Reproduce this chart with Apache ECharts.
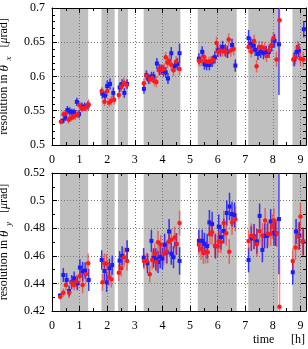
<!DOCTYPE html>
<html><head><meta charset="utf-8">
<script src="https://cdn.jsdelivr.net/npm/echarts@6/dist/echarts.min.js"></script>
<style>html,body{margin:0;padding:0;background:#fff}#c{width:308px;height:349px}</style>
</head><body><div id="c"></div>
<script>
// [start, end] of shaded (gray) time intervals, hours
var grayBands = [[0.29,1.31],[1.79,2.27],[2.39,2.75],[3.32,4.65],[5.28,6.69],[7.11,8.19],[8.71,9.2]];
var xTicks = [0,1,2,3,4,5,6,7,8,9];
var topTicks = [0.5,0.55,0.6,0.65,0.7];
var botTicks = [0.42,0.44,0.46,0.48,0.5,0.52];
// [time h, resolution urad, error]
var topRed = [[0.32,0.534,0.004],[0.42,0.545,0.005],[0.5,0.546,0.006],[0.6,0.537,0.006],[0.68,0.539,0.005],[0.76,0.541,0.005],[0.84,0.543,0.006],[0.92,0.545,0.006],[1.0,0.558,0.006],[1.08,0.553,0.005],[1.16,0.554,0.005],[1.25,0.555,0.006],[1.33,0.559,0.008],
[1.8,0.579,0.006],[1.9,0.563,0.006],[2.0,0.579,0.007],[2.07,0.562,0.006],[2.15,0.565,0.007],[2.25,0.566,0.007],
[2.42,0.573,0.006],[2.51,0.585,0.007],[2.6,0.591,0.007],[2.7,0.588,0.007],
[3.33,0.590,0.007],[3.42,0.601,0.007],[3.54,0.596,0.007],[3.63,0.598,0.007],[3.71,0.593,0.007],[3.78,0.592,0.008],[3.87,0.609,0.008],[3.94,0.610,0.007],[4.0,0.610,0.008],[4.06,0.611,0.008],[4.12,0.628,0.008],[4.18,0.620,0.008],[4.24,0.623,0.008],[4.32,0.617,0.008],[4.4,0.609,0.008],[4.5,0.622,0.008],[4.62,0.611,0.009],
[5.32,0.623,0.008],[5.4,0.623,0.008],[5.5,0.629,0.008],[5.58,0.622,0.008],[5.68,0.621,0.008],[5.76,0.622,0.008],[5.84,0.624,0.008],[5.96,0.649,0.009],[6.02,0.636,0.008],[6.1,0.638,0.008],[6.18,0.637,0.008],[6.26,0.638,0.008],[6.32,0.636,0.009],[6.4,0.654,0.009],[6.48,0.638,0.009],[6.58,0.640,0.009],
[7.12,0.643,0.008],[7.22,0.636,0.008],[7.32,0.652,0.009],[7.41,0.615,0.009],[7.5,0.643,0.009],[7.6,0.643,0.009],[7.7,0.641,0.009],[7.77,0.630,0.009],[7.86,0.638,0.009],[7.94,0.645,0.009],[8.02,0.656,0.009],[8.13,0.625,0.011],[8.24,0.682,0.06],
[8.74,0.625,0.01],[8.82,0.628,0.01],[8.9,0.642,0.01],[9.0,0.626,0.01],[9.1,0.625,0.011]];
var topBlue = [[0.38,0.535,0.004],[0.48,0.540,0.005],[0.56,0.551,0.006],[0.64,0.549,0.006],[0.72,0.548,0.005],[0.8,0.548,0.005],[0.9,0.563,0.006],[0.98,0.545,0.006],[1.08,0.556,0.006],[1.18,0.556,0.006],[1.3,0.558,0.006],
[1.82,0.575,0.007],[1.92,0.572,0.007],[2.0,0.586,0.008],[2.1,0.589,0.008],[2.22,0.576,0.008],
[2.45,0.584,0.007],[2.54,0.589,0.007],[2.62,0.576,0.007],[2.72,0.589,0.007],
[3.33,0.582,0.007],[3.42,0.602,0.007],[3.5,0.596,0.007],[3.6,0.600,0.007],[3.68,0.600,0.007],[3.8,0.619,0.008],[3.9,0.610,0.008],[3.97,0.610,0.007],[4.04,0.608,0.008],[4.12,0.606,0.008],[4.2,0.597,0.008],[4.32,0.634,0.009],[4.44,0.615,0.008],[4.54,0.618,0.009],[4.62,0.634,0.014],
[5.32,0.626,0.008],[5.44,0.636,0.008],[5.52,0.618,0.008],[5.6,0.617,0.008],[5.7,0.617,0.008],[5.8,0.622,0.008],[5.9,0.628,0.009],[6.0,0.638,0.009],[6.1,0.638,0.009],[6.18,0.643,0.009],[6.28,0.638,0.009],[6.36,0.636,0.009],[6.52,0.646,0.009],[6.64,0.616,0.009],
[7.12,0.656,0.012],[7.2,0.648,0.009],[7.28,0.645,0.009],[7.36,0.639,0.009],[7.46,0.633,0.009],[7.56,0.636,0.009],[7.66,0.634,0.009],[7.76,0.636,0.009],[7.86,0.636,0.009],[7.96,0.645,0.009],[8.06,0.652,0.01],[8.22,0.647,0.074],
[8.78,0.625,0.01],[8.86,0.636,0.01],[8.94,0.638,0.01],[9.12,0.669,0.012]];
var botRed = [[0.3,0.4304,0.002],[0.41,0.4333,0.003],[0.5,0.4389,0.004],[0.62,0.4333,0.004],[0.71,0.4406,0.004],[0.8,0.4389,0.004],[0.89,0.4413,0.005],[1.01,0.4454,0.005],[1.11,0.4389,0.006],[1.23,0.4467,0.006],[1.31,0.4546,0.007],
[1.83,0.4408,0.006],[1.9,0.4546,0.007],[1.98,0.4543,0.007],[2.06,0.4442,0.006],[2.15,0.4430,0.006],
[2.42,0.4478,0.006],[2.51,0.4510,0.006],[2.61,0.4590,0.007],[2.72,0.4563,0.007],
[3.33,0.4563,0.006],[3.43,0.4563,0.006],[3.54,0.4467,0.006],[3.63,0.4570,0.007],[3.72,0.4619,0.007],[3.78,0.4555,0.007],[3.84,0.4699,0.008],[3.94,0.4680,0.007],[4.04,0.4612,0.008],[4.14,0.4630,0.008],[4.24,0.4705,0.008],[4.32,0.4716,0.008],[4.44,0.4732,0.008],[4.52,0.4685,0.008],[4.62,0.4837,0.009],
[5.32,0.4680,0.007],[5.4,0.4650,0.008],[5.48,0.4620,0.008],[5.56,0.4625,0.008],[5.64,0.4626,0.008],[5.72,0.4757,0.008],[5.8,0.4771,0.009],[5.9,0.4672,0.008],[6.0,0.4670,0.008],[6.04,0.4703,0.008],[6.12,0.4700,0.008],[6.22,0.4837,0.009],[6.31,0.4764,0.009],[6.42,0.4630,0.009],[6.52,0.4841,0.009],[6.64,0.4866,0.009],
[7.12,0.4708,0.008],[7.22,0.4745,0.009],[7.32,0.4735,0.009],[7.42,0.4684,0.009],[7.52,0.4780,0.009],[7.62,0.4747,0.009],[7.72,0.4856,0.009],[7.82,0.4760,0.009],[7.92,0.4760,0.009],[7.98,0.4812,0.009],[8.04,0.4855,0.009],[8.14,0.4765,0.01],[8.24,0.4231,0.035],
[8.72,0.4563,0.009],[8.82,0.4660,0.009],[8.92,0.4740,0.01],[9.0,0.4885,0.01],[9.08,0.4705,0.01]];
var botBlue = [[0.29,0.4311,0.002],[0.41,0.4461,0.005],[0.53,0.4425,0.005],[0.62,0.4345,0.004],[0.71,0.4410,0.005],[0.8,0.4437,0.005],[0.92,0.4400,0.005],[1.01,0.4515,0.006],[1.11,0.4486,0.007],[1.2,0.4493,0.006],[1.33,0.4425,0.008],
[1.8,0.4570,0.007],[1.9,0.4490,0.007],[1.98,0.4408,0.007],[2.08,0.4510,0.007],[2.18,0.4533,0.007],
[2.45,0.4565,0.007],[2.54,0.4600,0.007],[2.72,0.4643,0.007],
[3.32,0.4587,0.007],[3.46,0.4545,0.007],[3.6,0.4708,0.008],[3.68,0.4585,0.007],[3.76,0.4575,0.008],[3.84,0.4555,0.008],[3.92,0.4590,0.008],[4.0,0.4580,0.008],[4.08,0.4680,0.008],[4.16,0.4625,0.008],[4.24,0.4776,0.009],[4.32,0.4615,0.008],[4.4,0.4590,0.008],[4.5,0.4685,0.008],[4.62,0.4563,0.01],
[5.32,0.4708,0.008],[5.44,0.4708,0.008],[5.52,0.4687,0.008],[5.62,0.4670,0.009],[5.7,0.4842,0.009],[5.8,0.4830,0.009],[5.92,0.4670,0.009],[6.04,0.4810,0.009],[6.12,0.4735,0.009],[6.22,0.4780,0.009],[6.33,0.4910,0.009],[6.43,0.4957,0.01],[6.52,0.4902,0.009],[6.61,0.4895,0.009],
[7.12,0.4570,0.009],[7.22,0.4725,0.009],[7.32,0.4740,0.009],[7.42,0.4705,0.009],[7.52,0.4889,0.009],[7.62,0.4643,0.009],[7.7,0.4745,0.009],[7.8,0.4745,0.009],[7.92,0.4849,0.009],[8.04,0.4764,0.009],[8.1,0.4760,0.009],[8.22,0.4866,0.04],
[8.72,0.4481,0.009],[8.84,0.4776,0.009],[8.96,0.4745,0.01],[9.1,0.4703,0.01]];

var FONT = 'Liberation Serif';
var RED = '#ff1a1a', BLUE = '#1a1aff';
var chart = echarts.init(document.getElementById('c'), null, {renderer:'canvas'});

function xAx(grid, pos){
  return {type:'value', gridIndex:grid, position:pos, min:xTicks[0], max:9.2, interval:1, z:3,
    axisLine:{show:true, onZero:false, lineStyle:{color:'#000', width:1}},
    axisTick:{show:true, inside:true, length:5, lineStyle:{color:'#000'}},
    minorTick:{show:true, splitNumber:2, length:3, lineStyle:{color:'#000'}},
    axisLabel:{show:pos==='bottom', margin:9, color:'#000', fontFamily:FONT, fontSize:12, showMaxLabel:false},
    splitLine:{show:pos==='bottom', lineStyle:{color:'#777', type:[1,2], width:1}}};
}
function yAx(grid, pos, ticks, minorN, nameRich){
  return {type:'value', gridIndex:grid, position:pos, min:ticks[0], max:ticks[ticks.length-1],
    interval:+(ticks[1]-ticks[0]).toFixed(4), z:3,
    axisLine:{show:true, onZero:false, lineStyle:{color:'#000', width:1}},
    axisTick:{show:true, inside:true, length:5, lineStyle:{color:'#000'}},
    minorTick:{show:true, splitNumber:minorN, length:3, lineStyle:{color:'#000'}},
    axisLabel:{show:pos==='left', margin:7, color:'#000', fontFamily:FONT, fontSize:12},
    splitLine:{show:pos==='left', lineStyle:{color:'#777', type:[1,2], width:1}},
    name: pos==='left' ? nameRich : '', nameLocation:'middle', nameRotate:90, nameGap:33,
    nameTextStyle:{fontFamily:FONT, fontSize:12, color:'#000', rich:{
      a:{fontFamily:FONT, fontSize:12, color:'#000', lineHeight:18},
      t:{fontFamily:FONT, fontSize:13, fontStyle:'italic', color:'#000', lineHeight:18},
      p:{fontFamily:FONT, fontSize:9, color:'#000', verticalAlign:'top', lineHeight:18},
      b:{fontFamily:FONT, fontSize:9, fontStyle:'italic', color:'#000', verticalAlign:'bottom', lineHeight:18},
      m:{fontFamily:FONT, fontSize:12, fontStyle:'italic', color:'#000', lineHeight:18}
    }}};
}
function bands(xi, yi){
  return {type:'custom', xAxisIndex:xi, yAxisIndex:yi, z:1, silent:true, clip:true,
    data: grayBands, encode:{x:[0,1]},
    renderItem:function(params, api){
      var cs = params.coordSys;
      var p0 = api.coord([api.value(0), 0]), p1 = api.coord([api.value(1), 0]);
      return {type:'rect', shape:{x:p0[0], y:cs.y, width:p1[0]-p0[0], height:cs.height},
        style:{fill:'#bfbfbf'}};
    }};
}
function errs(xi, yi, data, color, op){
  return {type:'custom', xAxisIndex:xi, yAxisIndex:yi, z:4, silent:true, clip:true,
    data:data, encode:{x:0, y:1},
    renderItem:function(params, api){
      var x = api.value(0), y = api.value(1), e = api.value(2);
      var a = api.coord([x, y-e]), b = api.coord([x, y+e]);
      return {type:'line', shape:{x1:a[0], y1:a[1], x2:b[0], y2:b[1]},
        style:{stroke:color, lineWidth:1.5, opacity:op}};
    }};
}
function pts(xi, yi, data, color, sym, size){
  return {type:'scatter', xAxisIndex:xi, yAxisIndex:yi, z:5, silent:true, clip:true,
    data:data.map(function(d){return [d[0], d[1]];}),
    symbol:sym, symbolSize:size, itemStyle:{color:color, opacity:1}};
}

var topName = '{a|resolution in }{t|θ}{p|*}{b|x}{a|   [}{m|μ}{a|rad]}';
var botName = '{a|resolution in }{t|θ}{p|*}{b|y}{a|   [}{m|μ}{a|rad]}';

chart.setOption({
  animation:false,
  backgroundColor:'#fff',
  grid:[{left:52, top:8, width:254, height:137, containLabel:false, outerBoundsMode:'none'},
        {left:52, top:173, width:254, height:138, containLabel:false, outerBoundsMode:'none'}],
  xAxis:[xAx(0,'bottom'), xAx(0,'top'), xAx(1,'bottom'), xAx(1,'top')],
  yAxis:[yAx(0,'left',topTicks,5,topName), yAx(0,'right',topTicks,5,''), yAx(1,'left',botTicks,2,botName), yAx(1,'right',botTicks,2,'')],
  series:[
    bands(0,0), bands(2,2),
    errs(0,0,topBlue,BLUE,0.85), pts(0,0,topBlue,BLUE,'rect',4),
    errs(0,0,topRed,RED,0.55), pts(0,0,topRed,RED,'circle',4.5),
    errs(2,2,botBlue,BLUE,0.85), pts(2,2,botBlue,BLUE,'rect',4),
    errs(2,2,botRed,RED,0.55), pts(2,2,botRed,RED,'circle',4.5)
  ],
  graphic:[
    {type:'text', left:253, top:334, style:{text:'time', fontFamily:FONT, fontSize:12, fill:'#000'}},
    {type:'text', left:291, top:334, style:{text:'[h]', fontFamily:FONT, fontSize:12, fill:'#000'}}
  ]
});
</script></body></html>
